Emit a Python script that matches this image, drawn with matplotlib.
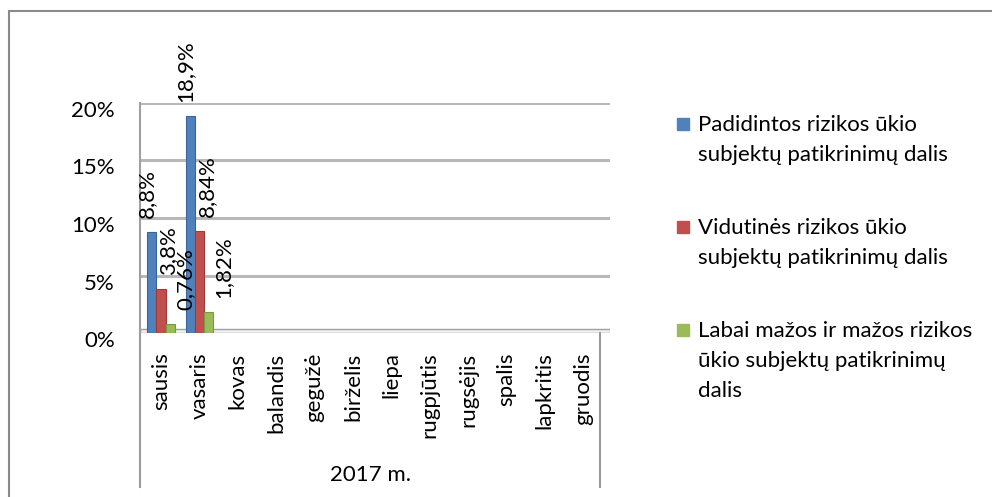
import matplotlib
matplotlib.use('Agg')
import matplotlib.pyplot as plt
import matplotlib.transforms as mtransforms
from matplotlib.patches import Rectangle
import numpy as np

plt.rcParams['font.family'] = ['Lato', 'DejaVu Sans']

months = ['sausis', 'vasaris', 'kovas', 'balandis', 'gegužė', 'birželis',
          'liepa', 'rugpjūtis', 'rugsėjis', 'spalis', 'lapkritis', 'gruodis']
year_label = '2017 m.'
nan = np.nan
high_risk = [8.8, 18.9] + [nan] * 10
medium_risk = [3.8, 8.84] + [nan] * 10
low_risk = [0.76, 1.82] + [nan] * 10
series_names = ['Padidintos rizikos ūkio\nsubjektų patikrinimų dalis',
                'Vidutinės rizikos ūkio\nsubjektų patikrinimų dalis',
                'Labai mažos ir mažos rizikos\nūkio subjektų patikrinimų\ndalis']
y_ticks = [0, 5, 10, 15, 20]

colors = ['#4F81BD', '#C0504D', '#9BBB59']
edges = ['#3A6596', '#9A3B38', '#7A9745']
FS = 16

W, H = 992, 497
def fx(px):
    return px / W
def fy(py):
    return 1 - py / H

fig = plt.figure(figsize=(W / 100, H / 100), dpi=100)

# outer chart border (cut off at right / bottom like the reference)
fig.patches.append(Rectangle((fx(9), fy(530)), fx(1100), fy(11) - fy(530),
                             transform=fig.transFigure, fill=False,
                             edgecolor='#8a8a8a', lw=1.5))

ax = fig.add_axes([fx(140), fy(333), fx(610) - fx(140), (333 - 103) / H])
ax.set_xlim(-0.55, 11.7)
ax.set_ylim(0, 20)

# back wall grid + floor
for t in y_ticks[1:]:
    ax.axhline(t, color='#b8b8b8', lw=2.2, zorder=1)
ax.axhspan(0, 0.35, facecolor='#f0f0f0', edgecolor='#a0a0a0', lw=1, zorder=1)

x = np.arange(len(months))
w = 0.24
label_dx = [-5, 7, 15]
for i, vals in enumerate([high_risk, medium_risk, low_risk]):
    xs = x + (i - 1) * w
    ax.bar(xs, vals, width=w, color=colors[i], edgecolor=edges[i], lw=0.8, zorder=3)
    for xi, v in zip(xs, vals):
        if np.isnan(v):
            continue
        txt = ('%g' % v).replace('.', ',') + '%'
        ax.annotate(txt, (xi, v), xytext=(label_dx[i], 14), textcoords='offset pixels',
                    rotation=90, ha='center', va='bottom', fontsize=FS, zorder=5)

for s in ['top', 'right', 'bottom']:
    ax.spines[s].set_visible(False)
ax.spines['left'].set_color('#a0a0a0')
ax.spines['left'].set_linewidth(1.5)

ax.set_yticks(y_ticks)
ax.set_yticklabels([f'{t}%' for t in y_ticks], fontsize=FS)
ax.tick_params(axis='y', length=0, pad=18)
off = mtransforms.ScaledTranslation(0, -6 / 100, fig.dpi_scale_trans)
for lab in ax.get_yticklabels():
    lab.set_transform(lab.get_transform() + off)

ax.set_xticks(x)
ax.set_xticklabels(months, rotation=90, fontsize=FS)
ax.tick_params(axis='x', length=0, pad=14)

# category axis separators
sep = mtransforms.blended_transform_factory(ax.transData, ax.transAxes)
for xv in [-0.55, 11.45]:
    ax.plot([xv, xv], [0, -(487 - 333) / 230], transform=sep, color='#9a9a9a',
            lw=1.5, clip_on=False)

fig.text(fx(370), fy(475), year_label, ha='center', va='center', fontsize=FS)

# legend
leg_top = [115, 218, 321]
for name, c, top in zip(series_names, colors, leg_top):
    fig.patches.append(Rectangle((fx(677), fy(top + 15)), fx(12), 12 / H,
                                 transform=fig.transFigure, color=c))
    fig.text(fx(698), fy(top), name, ha='left', va='top', fontsize=FS,
             linespacing=1.62)

fig.savefig('out.png', dpi=100)
